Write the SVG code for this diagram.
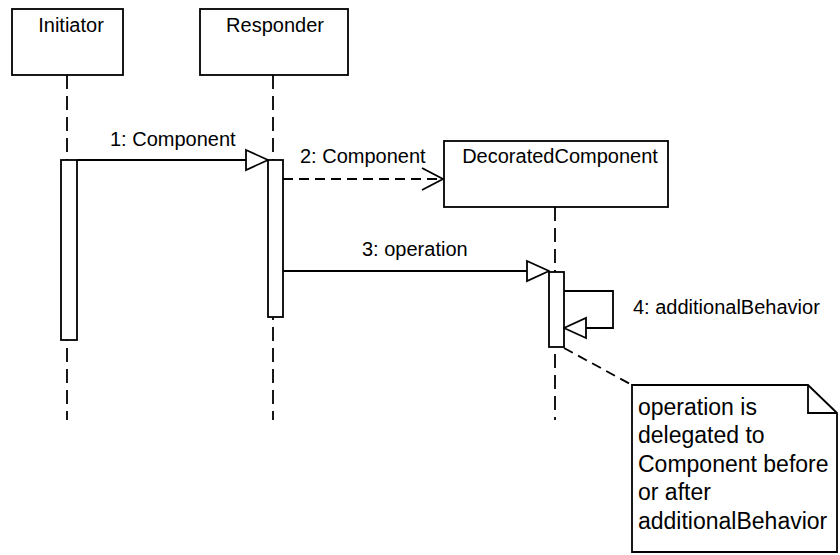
<svg xmlns="http://www.w3.org/2000/svg" width="840" height="555" viewBox="0 0 840 555">
<style>
.box{fill:#fff;stroke:#000;stroke-width:1.8}
.life{fill:none;stroke:#000;stroke-width:1.8;stroke-dasharray:14 7}
.msg{fill:none;stroke:#000;stroke-width:1.8}
.dmsg{fill:none;stroke:#000;stroke-width:1.8;stroke-dasharray:10 6}
text{font-family:"Liberation Sans",Arial,sans-serif;font-size:20px;fill:#000}
.note{font-size:23px}
</style>
<defs>
<marker id="tri" viewBox="0 0 24 24" refX="23" refY="12" markerWidth="24" markerHeight="24" markerUnits="userSpaceOnUse" orient="auto">
<path d="M1,2 L23,12 L1,22 Z" fill="#fff" stroke="#000" stroke-width="1.8"/>
</marker>
<marker id="open" viewBox="0 0 24 24" refX="22" refY="12" markerWidth="24" markerHeight="24" markerUnits="userSpaceOnUse" orient="auto">
<path d="M1,1 L22,12 L1,23" fill="none" stroke="#000" stroke-width="1.8"/>
</marker>
</defs>
<g id="lifelines">
<line class="life" x1="67" y1="75" x2="67" y2="420"/>
<line class="life" x1="273" y1="75" x2="273" y2="420"/>
<line class="life" x1="555" y1="207" x2="555" y2="420"/>
</g>
<g id="initiator">
<rect class="box" x="12" y="9" width="111" height="66"/>
<text x="71" y="32" text-anchor="middle">Initiator</text>
<rect class="box" x="61" y="160" width="16" height="180"/>
</g>
<g id="responder">
<rect class="box" x="200" y="9" width="148" height="66"/>
<text x="275" y="32" text-anchor="middle">Responder</text>
<rect class="box" x="268" y="160" width="15" height="157"/>
</g>
<g id="decorated">
<rect class="box" x="444" y="141" width="224" height="66"/>
<text x="560" y="163" text-anchor="middle">DecoratedComponent</text>
<rect class="box" x="549" y="272" width="15" height="75"/>
</g>
<g id="connectors">
<line class="msg" x1="77" y1="160" x2="268" y2="160" marker-end="url(#tri)"/>
<text x="110" y="146">1: Component</text>
<line class="dmsg" x1="283" y1="179" x2="443" y2="179" marker-end="url(#open)"/>
<text x="300" y="163">2: Component</text>
<line class="msg" x1="283" y1="271" x2="549" y2="271" marker-end="url(#tri)"/>
<text x="362" y="256">3: operation</text>
<polyline class="msg" points="564,291 613,291 613,328 564,328" marker-end="url(#tri)"/>
<text x="633" y="314">4: additionalBehavior</text>
<line class="dmsg" x1="564" y1="348" x2="632" y2="385"/>
</g>
<g id="note">
<path class="box" d="M632,385 L808,385 L837,413 L837,552 L632,552 Z"/>
<path class="msg" d="M808,385 L808,413 L837,413"/>
<text class="note" x="638" y="415">operation is</text>
<text class="note" x="638" y="443">delegated to</text>
<text class="note" x="638" y="472">Component before</text>
<text class="note" x="638" y="500">or after</text>
<text class="note" x="638" y="529">additionalBehavior</text>
</g>
</svg>
